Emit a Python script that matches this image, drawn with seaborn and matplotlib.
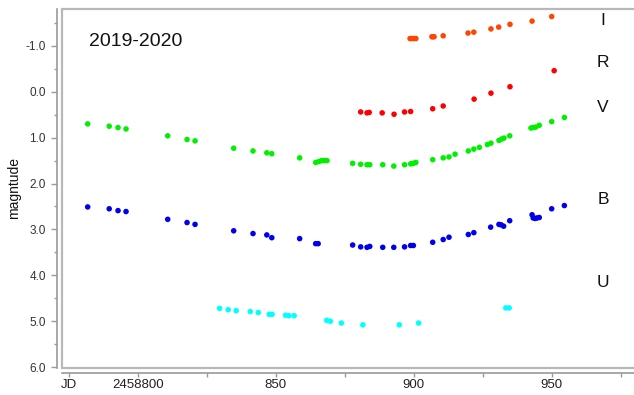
import numpy as np
import pandas as pd
import matplotlib
matplotlib.use('Agg')
import matplotlib.pyplot as plt
from matplotlib.ticker import MultipleLocator, FormatStrFormatter
import seaborn as sns

# JD - 2458000 and magnitudes
jd_I = [898.7, 899.4, 900.1, 900.8, 906.6, 907.0, 907.4, 910.7, 919.7, 921.8,
        928.0, 930.8, 934.9, 942.9, 950.0]
mag_I = [-1.16, -1.16, -1.16, -1.16, -1.20, -1.20, -1.20, -1.22, -1.28, -1.30,
         -1.37, -1.41, -1.47, -1.54, -1.64]

jd_R = [880.8, 883.1, 883.9, 888.6, 892.9, 896.7, 898.9, 906.9, 910.7, 921.9,
        928.0, 934.9, 950.9]
mag_R = [0.44, 0.46, 0.45, 0.46, 0.49, 0.44, 0.43, 0.37, 0.31, 0.16,
         0.03, -0.11, -0.46]

jd_V = [781.9, 789.7, 792.9, 795.8, 810.9, 817.9, 820.8, 834.8, 841.8, 846.8,
        848.6, 858.7, 864.5, 865.7, 866.7, 867.6, 868.6, 877.9, 880.8, 883.1,
        884.1, 888.8, 892.8, 896.7, 898.9, 899.9, 900.8, 906.9, 910.7, 912.8,
        915.0, 919.8, 921.8, 923.8, 926.7, 928.0, 930.9, 931.9, 932.7, 934.8,
        942.5, 943.3, 944.2, 945.5, 950.0, 954.6]
mag_V = [0.70, 0.75, 0.78, 0.81, 0.96, 1.04, 1.07, 1.23, 1.29, 1.33,
         1.35, 1.44, 1.54, 1.52, 1.50, 1.50, 1.50, 1.56, 1.58, 1.59,
         1.59, 1.59, 1.62, 1.59, 1.57, 1.56, 1.54, 1.48, 1.44, 1.42,
         1.36, 1.29, 1.25, 1.21, 1.15, 1.12, 1.06, 1.03, 1.01, 0.96,
         0.79, 0.78, 0.77, 0.73, 0.65, 0.56]

jd_B = [781.9, 789.7, 792.9, 795.8, 810.9, 817.9, 820.8, 834.8, 841.8, 846.8,
        848.6, 858.7, 864.5, 865.4, 877.9, 880.8, 883.1, 884.1, 888.8, 892.8,
        896.7, 898.9, 899.9, 906.9, 910.7, 912.8, 919.8, 921.8, 927.9, 930.9,
        931.7, 932.6, 934.8, 942.9, 943.3, 944.0, 944.7, 945.5, 950.0, 954.6]
mag_B = [2.51, 2.55, 2.59, 2.61, 2.78, 2.85, 2.89, 3.03, 3.09, 3.12,
         3.18, 3.20, 3.31, 3.31, 3.34, 3.38, 3.39, 3.37, 3.39, 3.39,
         3.38, 3.35, 3.35, 3.28, 3.22, 3.17, 3.11, 3.07, 2.95, 2.89,
         2.90, 2.93, 2.81, 2.68, 2.75, 2.76, 2.75, 2.74, 2.55, 2.48]

jd_U = [829.7, 832.8, 835.7, 840.8, 843.7, 847.7, 848.7, 853.6, 854.8, 856.7,
        868.5, 869.8, 873.8, 881.6, 894.8, 901.8, 933.4, 934.6]
mag_U = [4.72, 4.75, 4.77, 4.79, 4.81, 4.85, 4.85, 4.87, 4.88, 4.88,
         4.98, 5.00, 5.04, 5.08, 5.08, 5.04, 4.71, 4.71]

bands = ['I', 'R', 'V', 'B', 'U']
colors = {'I': '#ff4500', 'R': '#ff0000', 'V': '#00f000', 'B': '#0000ee', 'U': '#00ffff'}

xticks = [775, 800, 825, 850, 875, 900, 925, 950, 975]
xtick_labels = ['JD', '2458800', '', '850', '', '900', '', '950', '']

series = {'I': (jd_I, mag_I), 'R': (jd_R, mag_R), 'V': (jd_V, mag_V),
          'B': (jd_B, mag_B), 'U': (jd_U, mag_U)}
df = pd.concat([pd.DataFrame({'jd': j, 'mag': m, 'band': b})
                for b, (j, m) in series.items()], ignore_index=True)

sns.set_theme(style='white')
plt.rcParams['font.family'] = ['Liberation Sans', 'DejaVu Sans']

fig = plt.figure(figsize=(6.34, 3.95), dpi=100)
ax = fig.add_axes([62 / 634, 27 / 395, 578 / 634, 359.5 / 395])

sns.scatterplot(data=df, x='jd', y='mag', hue='band', palette=colors,
                s=16, linewidth=0, legend=False, ax=ax)

ax.set_xlim(772.6, 982.0)
ax.set_ylim(6.02, -1.815)

# plot frame
ax.patch.set_edgecolor('#b8b8b8')
ax.patch.set_linewidth(1.6)
ax.spines['top'].set_visible(False)
ax.spines['right'].set_visible(False)
for side in ['left', 'bottom']:
    ax.spines[side].set_position(('outward', 3.5))
    ax.spines[side].set_color('#9a9a9a')
    ax.spines[side].set_linewidth(1.2)

ax.set_xticks(xticks)
ax.set_xticklabels(xtick_labels)
ax.yaxis.set_major_locator(MultipleLocator(1.0))
ax.yaxis.set_minor_locator(MultipleLocator(0.5))
ax.yaxis.set_major_formatter(FormatStrFormatter('%.1f'))
ax.tick_params(axis='x', direction='out', length=3, width=1, color='#9a9a9a',
               labelsize=9.5, labelcolor='#222222', pad=1.5, bottom=True)
ax.tick_params(axis='y', which='major', direction='out', length=4, width=1,
               color='#9a9a9a', labelsize=8.5, labelcolor='#333333', pad=4, left=True)
ax.tick_params(axis='y', which='minor', direction='out', length=2, width=1,
               color='#9a9a9a', left=True)

ax.set_xlabel('')
ax.set_ylabel('magntude', fontsize=10, color='#111111', labelpad=3)

ax.text(0.047, 0.907, '2019-2020', transform=ax.transAxes, fontsize=14,
        color='#111111', va='center', ha='left')

label_y = [0.968, 0.849, 0.724, 0.469, 0.239]
for b, yy in zip(bands, label_y):
    ax.text(0.936, yy, b, transform=ax.transAxes, fontsize=12.5,
            color='#111111', va='center', ha='center')

fig.savefig('out.png', dpi=100)
